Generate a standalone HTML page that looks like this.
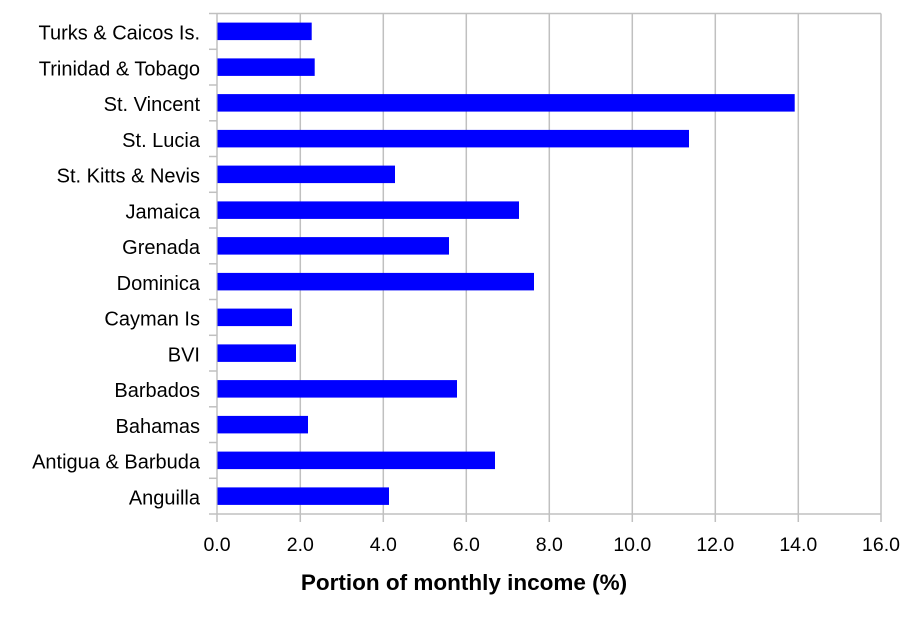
<!DOCTYPE html>
<html><head><style>body{margin:0;background:#fff}</style></head><body>
<svg width="923" height="615" xmlns="http://www.w3.org/2000/svg" font-family="Liberation Sans, Arial, sans-serif">
<rect x="0" y="0" width="923" height="615" fill="#fff"/>
<g stroke="#c0c0c0" stroke-width="1.5">
<line x1="300.3" y1="13.5" x2="300.3" y2="522"/>
<line x1="383.3" y1="13.5" x2="383.3" y2="522"/>
<line x1="466.3" y1="13.5" x2="466.3" y2="522"/>
<line x1="549.3" y1="13.5" x2="549.3" y2="522"/>
<line x1="632.3" y1="13.5" x2="632.3" y2="522"/>
<line x1="715.3" y1="13.5" x2="715.3" y2="522"/>
<line x1="798.3" y1="13.5" x2="798.3" y2="522"/>
<line x1="881" y1="13.5" x2="881" y2="522"/>
<line x1="217" y1="13.5" x2="881" y2="13.5"/>
<line x1="217" y1="514" x2="881" y2="514"/>
<line x1="217" y1="13.5" x2="217" y2="522"/>
<line x1="209" y1="13.5" x2="217" y2="13.5"/><line x1="209" y1="49.3" x2="217" y2="49.3"/><line x1="209" y1="85" x2="217" y2="85"/><line x1="209" y1="120.8" x2="217" y2="120.8"/><line x1="209" y1="156.5" x2="217" y2="156.5"/><line x1="209" y1="192.3" x2="217" y2="192.3"/><line x1="209" y1="228" x2="217" y2="228"/><line x1="209" y1="263.8" x2="217" y2="263.8"/><line x1="209" y1="299.5" x2="217" y2="299.5"/><line x1="209" y1="335.3" x2="217" y2="335.3"/><line x1="209" y1="371" x2="217" y2="371"/><line x1="209" y1="406.8" x2="217" y2="406.8"/><line x1="209" y1="442.5" x2="217" y2="442.5"/><line x1="209" y1="478.3" x2="217" y2="478.3"/><line x1="209" y1="514" x2="217" y2="514"/>
</g>
<g fill="#0000ff">
<rect x="217.5" y="22.6" width="94.2" height="17.5"/>
<rect x="217.5" y="58.4" width="97.2" height="17.5"/>
<rect x="217.5" y="94.1" width="577.2" height="17.5"/>
<rect x="217.5" y="129.9" width="471.5" height="17.5"/>
<rect x="217.5" y="165.6" width="177.5" height="17.5"/>
<rect x="217.5" y="201.4" width="301.5" height="17.5"/>
<rect x="217.5" y="237.1" width="231.5" height="17.5"/>
<rect x="217.5" y="272.9" width="316.5" height="17.5"/>
<rect x="217.5" y="308.6" width="74.5" height="17.5"/>
<rect x="217.5" y="344.4" width="78.5" height="17.5"/>
<rect x="217.5" y="380.1" width="239.5" height="17.5"/>
<rect x="217.5" y="415.9" width="90.5" height="17.5"/>
<rect x="217.5" y="451.6" width="277.5" height="17.5"/>
<rect x="217.5" y="487.4" width="171.5" height="17.5"/>
</g>
<g font-size="20" text-anchor="end" fill="#000">
<text x="200" y="39.5">Turks &amp; Caicos Is.</text>
<text x="200" y="75.3">Trinidad &amp; Tobago</text>
<text x="200" y="111">St. Vincent</text>
<text x="200" y="146.8">St. Lucia</text>
<text x="200" y="182.5">St. Kitts &amp; Nevis</text>
<text x="200" y="218.3">Jamaica</text>
<text x="200" y="254">Grenada</text>
<text x="200" y="289.8">Dominica</text>
<text x="200" y="325.5">Cayman Is</text>
<text x="200" y="361.3">BVI</text>
<text x="200" y="397">Barbados</text>
<text x="200" y="432.8">Bahamas</text>
<text x="200" y="468.5">Antigua &amp; Barbuda</text>
<text x="200" y="504.3">Anguilla</text>
</g>
<g font-size="19.5" text-anchor="middle" fill="#000">
<text x="217" y="551">0.0</text><text x="300.3" y="551">2.0</text><text x="383.3" y="551">4.0</text><text x="466.3" y="551">6.0</text><text x="549.3" y="551">8.0</text><text x="632.3" y="551">10.0</text><text x="715.3" y="551">12.0</text><text x="798.3" y="551">14.0</text><text x="881" y="551">16.0</text>
</g>
<text x="464" y="590" font-size="22.5" font-weight="bold" text-anchor="middle">Portion of monthly income (%)</text>
</svg>
</body></html>
